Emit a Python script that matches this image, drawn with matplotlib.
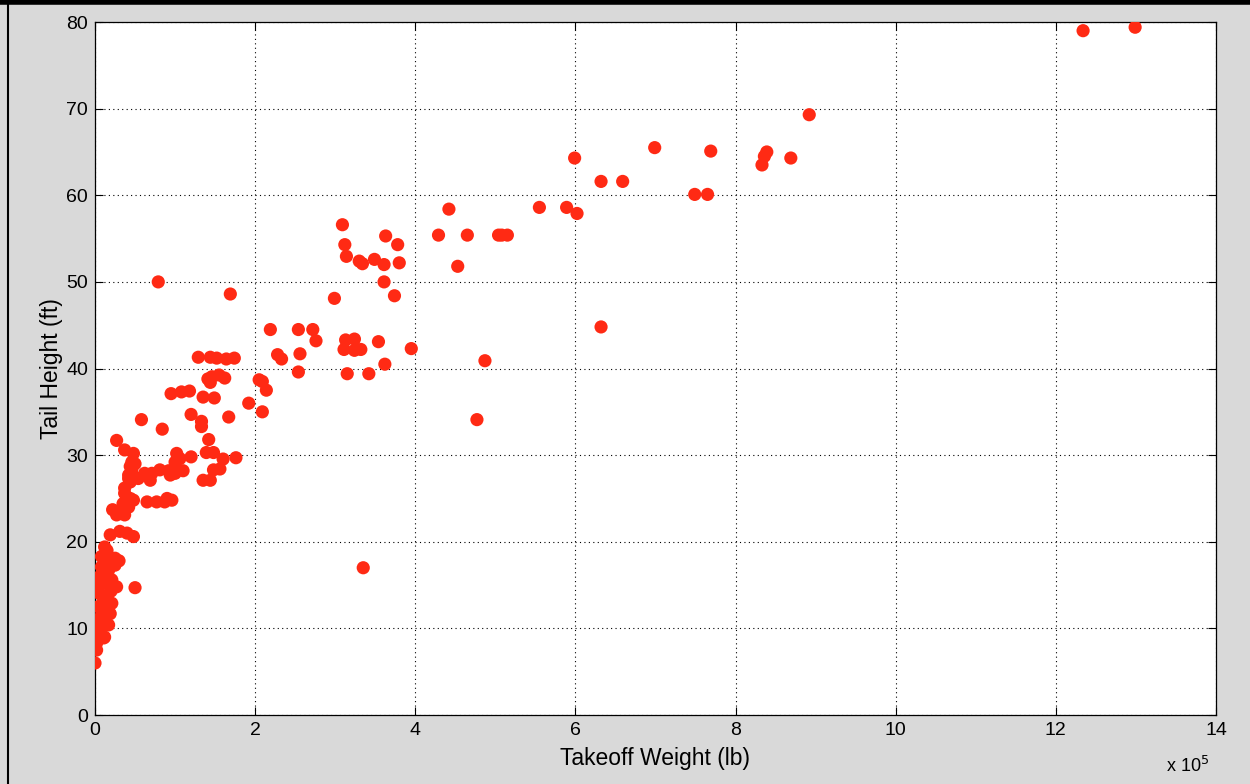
import matplotlib
matplotlib.use("Agg")
import matplotlib.pyplot as plt
from matplotlib.lines import Line2D

# Takeoff weight in units of 1e5 lb, tail height in ft
weight_1e5 = [
    0.00, 0.02, 0.02, 0.00, 0.06, 0.12, 0.04, 0.10, 0.17, 0.04, 0.12, 0.19,
    0.06, 0.15, 0.21, 0.06, 0.12, 0.21, 0.27, 0.08, 0.17, 0.25, 0.08, 0.17,
    0.25, 0.12, 0.19, 0.31, 0.40, 0.48, 0.22, 0.27, 0.37, 0.42, 0.48, 0.50,
    0.14, 0.10, 0.20, 0.03, 0.08, 0.15, 0.30, 0.11, 0.01, 0.33,
    0.37, 0.44, 0.35, 0.37, 0.44, 0.42, 0.46, 0.42, 0.46, 0.50, 0.44, 0.48,
    0.37, 0.27,
    0.62, 0.71, 0.81, 0.92, 1.00, 0.54, 0.69, 0.94, 1.10,
    0.65, 0.77, 0.87, 0.96, 0.90,
    1.02, 1.00, 1.06, 1.20, 1.39, 1.48, 1.60, 1.76,
    1.48, 1.56, 1.35, 1.44, 1.42,
    0.58, 0.84, 1.20, 1.33, 1.33, 1.67,
    0.95, 1.08, 1.18, 1.35, 1.49,
    1.29, 1.44, 1.52, 1.64, 1.74,
    1.41, 1.44, 1.55, 1.62, 1.46,
    0.79, 1.69,
    1.92, 2.09, 2.05, 2.09, 2.14,
    2.19, 2.54, 2.72, 2.76, 2.28, 2.33, 2.56, 2.54,
    2.99, 3.09, 3.12, 3.14, 3.30, 3.34, 3.49, 3.61, 3.63, 3.78, 3.80, 3.61, 3.74,
    3.13, 3.24, 3.11, 3.24, 3.32, 3.54, 3.95, 3.62, 3.15, 3.42,
    3.35,
    4.29, 4.42, 4.53, 4.65, 4.77, 4.87, 5.04, 5.08, 5.15,
    5.55, 5.89, 5.99, 6.02, 6.32, 6.59, 6.32, 6.99,
    7.49, 7.65, 7.69, 8.33, 8.36, 8.39, 8.69, 8.92, 12.34, 12.99,
]
tail_height_ft = [
    6.0, 7.5, 8.3, 10.0, 9.6, 9.0, 11.0, 10.6, 10.4, 12.5, 12.1, 11.7,
    14.0, 13.5, 12.9, 16.0, 15.2, 15.6, 14.8, 17.1, 16.7, 17.3, 18.3, 18.1,
    18.1, 19.4, 20.8, 21.2, 21.0, 20.6, 23.7, 23.1, 23.1, 24.0, 24.8, 14.7,
    16.3, 13.0, 14.3, 9.0, 11.5, 19.0, 17.8, 8.9, 14.8, 23.3,
    25.6, 25.0, 24.4, 26.2, 26.9, 27.7, 28.3, 27.3, 29.2, 29.0, 28.7, 30.2,
    30.6, 31.7,
    27.9, 27.9, 28.3, 28.2, 27.9, 27.3, 27.1, 27.7, 28.2,
    24.6, 24.6, 24.6, 24.8, 25.0,
    30.2, 29.2, 29.6, 29.8, 30.3, 30.3, 29.55, 29.7,
    28.3, 28.4, 27.1, 27.1, 31.8,
    34.1, 33.0, 34.7, 33.9, 33.3, 34.4,
    37.1, 37.3, 37.4, 36.7, 36.6,
    41.3, 41.3, 41.2, 41.1, 41.2,
    38.8, 38.4, 39.25, 38.9, 39.05,
    50.0, 48.6,
    36.0, 35.0, 38.7, 38.5, 37.5,
    44.5, 44.5, 44.5, 43.2, 41.6, 41.1, 41.7, 39.6,
    48.1, 56.6, 54.3, 52.95, 52.4, 52.1, 52.6, 52.0, 55.3, 54.3, 52.2, 50.0, 48.4,
    43.3, 43.4, 42.2, 42.1, 42.2, 43.1, 42.3, 40.5, 39.4, 39.4,
    17.0,
    55.4, 58.4, 51.8, 55.4, 34.1, 40.9, 55.4, 55.4, 55.4,
    58.6, 58.6, 64.3, 57.9, 61.6, 61.6, 44.8, 65.5,
    60.1, 60.1, 65.1, 63.5, 64.5, 65.0, 64.3, 69.3, 79.0, 79.4,
]

x_ticks = [0, 2, 4, 6, 8, 10, 12, 14]
y_ticks = [0, 10, 20, 30, 40, 50, 60, 70, 80]

plt.rcParams['font.family'] = ['Liberation Sans', 'DejaVu Sans']

fig = plt.figure(figsize=(12.5, 7.84), dpi=100, facecolor='#D9D9D9')
ax = fig.add_axes([0.076, 0.088, 0.8968, 0.8839])
ax.set_facecolor('white')

ax.scatter(weight_1e5, tail_height_ft, s=90, color='#FF2A14', edgecolors='none',
           zorder=3)

ax.set_xlim(0, 14)
ax.set_ylim(0, 80)
ax.set_xticks(x_ticks)
ax.set_yticks(y_ticks)
ax.set_xticklabels([str(v) for v in x_ticks])
ax.set_yticklabels([str(v) for v in y_ticks])
ax.grid(True, color='black', linestyle=(0, (1, 3)), linewidth=0.8, zorder=1)
ax.tick_params(direction='in', length=6, width=0.8, labelsize=14,
               top=True, right=True, colors='black', pad=5)
for sp in ax.spines.values():
    sp.set_color('black')
    sp.set_linewidth(0.9)

ax.set_xlabel('Takeoff Weight (lb)', fontsize=16.5, labelpad=6)
ax.set_ylabel('Tail Height (ft)', fontsize=16.5, labelpad=2)
fig.text(1188 / 1250, 1 - 766 / 784, r'x 10$^5$', fontsize=13,
         ha='center', va='center')

# screenshot frame
fig.add_artist(Line2D([0, 1], [0.997, 0.997], transform=fig.transFigure,
                      color='black', linewidth=4))
fig.add_artist(Line2D([0.0065, 0.0065], [0, 1], transform=fig.transFigure,
                      color='black', linewidth=1.5))

fig.savefig('out.png', dpi=100, facecolor=fig.get_facecolor())
